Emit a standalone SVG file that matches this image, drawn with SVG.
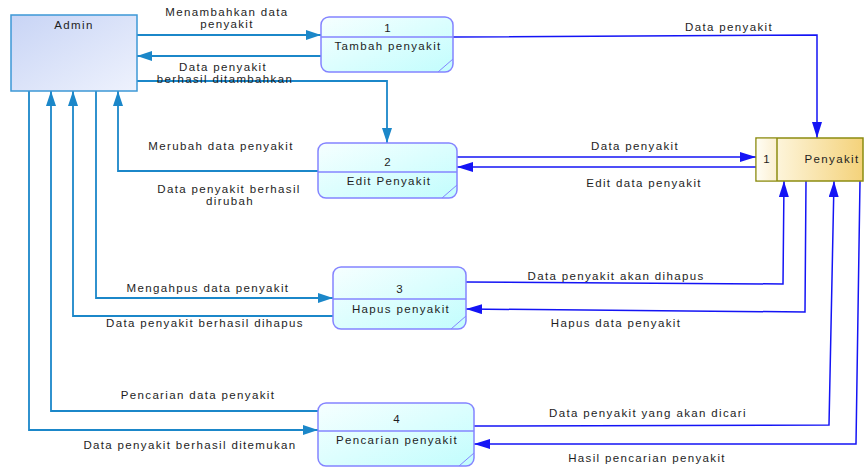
<svg xmlns="http://www.w3.org/2000/svg" width="864" height="468" viewBox="0 0 864 468">
  <defs>
    <linearGradient id="gAdmin" x1="0" y1="0" x2="1" y2="1">
      <stop offset="0" stop-color="#c8d4f5"/>
      <stop offset="1" stop-color="#eef2fd"/>
    </linearGradient>
    <linearGradient id="gProc" x1="0" y1="0" x2="1" y2="1">
      <stop offset="0" stop-color="#f6ffff"/>
      <stop offset="1" stop-color="#c2fdfd"/>
    </linearGradient>
    <linearGradient id="gStore" x1="0" y1="0" x2="1" y2="0">
      <stop offset="0" stop-color="#fffdf2"/>
      <stop offset="1" stop-color="#f4d27a"/>
    </linearGradient>
    <linearGradient id="gStoreId" x1="0" y1="0" x2="1" y2="0">
      <stop offset="0" stop-color="#fffdf4"/>
      <stop offset="1" stop-color="#fbefd0"/>
    </linearGradient>
    <marker id="aL" markerUnits="userSpaceOnUse" markerWidth="15" markerHeight="10" refX="15" refY="5" orient="auto">
      <path d="M0,0 L15,5 L0,10 z" fill="#1b87c9"/>
    </marker>
    <marker id="aR" markerUnits="userSpaceOnUse" markerWidth="16" markerHeight="10" refX="16" refY="5" orient="auto">
      <path d="M0,0 L16,5 L0,10 z" fill="#1414f5"/>
    </marker>
  </defs>
  <style>
    text { font-family: "Liberation Sans", Arial, sans-serif; font-size: 11.5px; fill: #1e1e1e; letter-spacing: 1.35px; text-anchor: middle; }
    .ent { fill: url(#gAdmin); stroke: #3d98d6; stroke-width: 1.5; }
    .proc { fill: url(#gProc); stroke: #8484ff; stroke-width: 1.5; }
    .div { stroke: #8484ff; stroke-width: 1.5; fill: none; }
    .fold { stroke: #8484ff; stroke-width: 1; fill: none; }
    .store { fill: url(#gStore); stroke: #8c8c10; stroke-width: 1.5; }
    .cl { fill: none; stroke: #1b87c9; stroke-width: 1.8; }
    .cr { fill: none; stroke: #1414f5; stroke-width: 1.5; }
  </style>

  <!-- connectors -->
  <g id="connectors">
    <!-- Admin side -->
    <polyline class="cl" points="137,35 321,35" marker-end="url(#aL)"/>
    <polyline class="cl" points="321,56 137,56" marker-end="url(#aL)"/>
    <polyline class="cl" points="137,81 387,81 387,143" marker-end="url(#aL)"/>
    <polyline class="cl" points="318,171 118,171 118,91" marker-end="url(#aL)"/>
    <polyline class="cl" points="96,91 96,298 333,298" marker-end="url(#aL)"/>
    <polyline class="cl" points="333,316 73,316 73,91" marker-end="url(#aL)"/>
    <polyline class="cl" points="318,411 51,411 51,91" marker-end="url(#aL)"/>
    <polyline class="cl" points="29,91 29,430 318,430" marker-end="url(#aL)"/>
    <!-- Data store side -->
    <polyline class="cr" points="453,37 817,35 817,138" marker-end="url(#aR)"/>
    <polyline class="cr" points="457,157 756,157" marker-end="url(#aR)"/>
    <polyline class="cr" points="756,167 457,167" marker-end="url(#aR)"/>
    <polyline class="cr" points="466,282 783,284 784,181" marker-end="url(#aR)"/>
    <polyline class="cr" points="806,181 805,312 466,309" marker-end="url(#aR)"/>
    <polyline class="cr" points="474,426 829,425 834,181" marker-end="url(#aR)"/>
    <polyline class="cr" points="860,181 856,444 474,444" marker-end="url(#aR)"/>

    <!-- flow labels -->
    <text x="227" y="16">Menambahkan data</text>
    <text x="227" y="28">penyakit</text>
    <text x="223" y="71">Data penyakit</text>
    <text x="225" y="83">berhasil ditambahkan</text>
    <text x="221" y="150">Merubah data penyakit</text>
    <text x="229" y="193">Data penyakit berhasil</text>
    <text x="230" y="205">dirubah</text>
    <text x="208" y="292">Mengahpus data penyakit</text>
    <text x="205" y="327">Data penyakit berhasil dihapus</text>
    <text x="198" y="399">Pencarian data penyakit</text>
    <text x="190" y="449">Data penyakit berhasil ditemukan</text>
    <text x="729" y="31">Data penyakit</text>
    <text x="635" y="150">Data penyakit</text>
    <text x="644" y="187">Edit data penyakit</text>
    <text x="616" y="280">Data penyakit akan dihapus</text>
    <text x="616" y="327">Hapus data penyakit</text>
    <text x="648" y="417">Data penyakit yang akan dicari</text>
    <text x="647" y="462">Hasil pencarian penyakit</text>
  </g>

  <!-- external entity -->
  <g id="admin">
    <rect class="ent" x="11" y="15" width="126" height="76"/>
    <text x="74" y="29">Admin</text>
  </g>

  <!-- processes -->
  <g id="proc1">
    <rect class="proc" x="321" y="17" width="132" height="55" rx="8"/>
    <line class="div" x1="321" y1="37" x2="453" y2="37"/>
    <line class="fold" x1="438" y1="72" x2="453" y2="59"/>
    <text x="388" y="32">1</text>
    <text x="388" y="50">Tambah penyakit</text>
  </g>
  <g id="proc2">
    <rect class="proc" x="318" y="143" width="139" height="55" rx="8"/>
    <line class="div" x1="318" y1="172" x2="457" y2="172"/>
    <line class="fold" x1="442" y1="198" x2="457" y2="185"/>
    <text x="388" y="166">2</text>
    <text x="389" y="185">Edit Penyakit</text>
  </g>
  <g id="proc3">
    <rect class="proc" x="333" y="267" width="133" height="62" rx="8"/>
    <line class="div" x1="333" y1="299" x2="466" y2="299"/>
    <line class="fold" x1="451" y1="329" x2="466" y2="316"/>
    <text x="400" y="293">3</text>
    <text x="401" y="313">Hapus penyakit</text>
  </g>
  <g id="proc4">
    <rect class="proc" x="318" y="403" width="156" height="63" rx="8"/>
    <line class="div" x1="318" y1="431" x2="474" y2="431"/>
    <line class="fold" x1="459" y1="466" x2="474" y2="453"/>
    <text x="397" y="423">4</text>
    <text x="397" y="444">Pencarian penyakit</text>
  </g>

  <!-- data store -->
  <g id="store1">
    <rect class="store" x="756" y="138" width="107" height="43"/>
    <rect x="756.75" y="138.75" width="20" height="41.5" fill="url(#gStoreId)"/>
    <line x1="777" y1="138" x2="777" y2="181" stroke="#8c8c10" stroke-width="1.5"/>
    <text x="767" y="163">1</text>
    <text x="832" y="163">Penyakit</text>
  </g>
</svg>
